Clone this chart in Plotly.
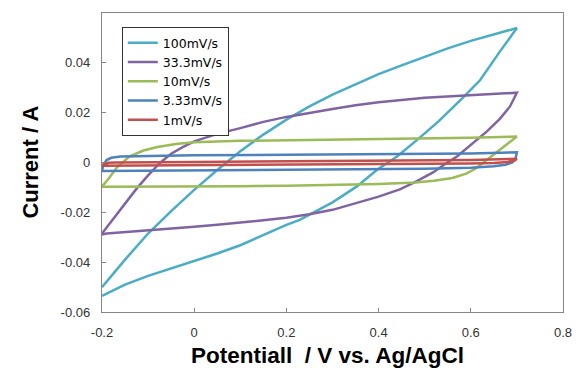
import plotly.graph_objects as go

# ---- data (potential V, current A) ----
series_names = ["100mV/s", "33.3mV/s", "10mV/s", "3.33mV/s", "1mV/s"]
series_colors = ["#4BACC6", "#8064A2", "#9BBB59", "#4F81BD", "#C0504D"]

x_100 = [-0.2, -0.15, -0.1, -0.05, 0.0, 0.05, 0.1, 0.15, 0.2, 0.25, 0.3, 0.35, 0.4, 0.45, 0.5, 0.55, 0.6, 0.65, 0.7,
         0.663, 0.62, 0.583, 0.53, 0.483, 0.44, 0.396, 0.353, 0.3, 0.229, 0.2, 0.14, 0.1, 0.05, 0.0, -0.05, -0.1, -0.15, -0.2]
y_100 = [-0.050, -0.039, -0.0285, -0.0195, -0.011, -0.003, 0.0045, 0.0112, 0.0172, 0.0225, 0.0272, 0.0315, 0.0355, 0.039, 0.0425, 0.0458, 0.0488, 0.0515, 0.054,
         0.0445, 0.033, 0.026, 0.0165, 0.009, 0.0024, -0.003, -0.0096, -0.016, -0.023, -0.025, -0.030, -0.0332, -0.0365, -0.0395, -0.0425, -0.0455, -0.049, -0.0535]

x_33 = [-0.2, -0.175, -0.15, -0.125, -0.1, -0.075, -0.05, -0.025, 0.0, 0.05, 0.1, 0.15, 0.2, 0.25, 0.3, 0.35, 0.4, 0.5, 0.6, 0.7,
        0.685, 0.663, 0.635, 0.605, 0.57, 0.545, 0.518, 0.48, 0.446, 0.4, 0.35, 0.3, 0.25, 0.2, 0.15, 0.1, 0.05, 0.0, -0.05, -0.1, -0.15, -0.19, -0.2]
y_33 = [-0.0285, -0.0225, -0.0163, -0.0105, -0.0052, -0.0003, 0.0035, 0.0062, 0.0085, 0.0115, 0.0138, 0.0163, 0.0183, 0.020, 0.0215, 0.023, 0.0242, 0.026, 0.027, 0.028,
        0.0225, 0.0175, 0.0125, 0.008, 0.0024, -0.0005, -0.004, -0.0078, -0.0108, -0.0137, -0.0163, -0.019, -0.0208, -0.0222, -0.0232, -0.0242, -0.025, -0.0258, -0.0265, -0.0272, -0.0278, -0.0285, -0.0289]

x_10 = [-0.2, -0.187, -0.168, -0.14, -0.11, -0.08, -0.04, 0.0, 0.1, 0.2, 0.3, 0.4, 0.5, 0.6, 0.7,
        0.69, 0.67, 0.65, 0.63, 0.61, 0.59, 0.56, 0.52, 0.48, 0.4, 0.3, 0.2, 0.1, 0.0, -0.1, -0.2]
y_10 = [-0.0096, -0.0068, -0.002, 0.0025, 0.0048, 0.0062, 0.0074, 0.0081, 0.0087, 0.0089, 0.0091, 0.0093, 0.0096, 0.0099, 0.0104,
        0.009, 0.006, 0.0032, 0.0005, -0.0025, -0.0045, -0.0062, -0.0073, -0.008, -0.0086, -0.009, -0.0093, -0.0095, -0.0096, -0.0097, -0.0097]

x_3 = [-0.2, -0.197, -0.19, -0.18, -0.16, -0.1, 0.0, 0.2, 0.4, 0.6, 0.7,
       0.697, 0.69, 0.675, 0.65, 0.6, 0.5, 0.3, 0.1, -0.1, -0.2]
y_3 = [-0.0034, -0.001, 0.001, 0.0019, 0.0024, 0.0027, 0.0029, 0.0031, 0.0033, 0.0036, 0.0041,
       0.0015, 0.0, -0.0009, -0.0015, -0.0021, -0.0025, -0.0028, -0.0031, -0.0033, -0.0034]

x_1 = [-0.2, -0.195, -0.185, -0.17, 0.0, 0.2, 0.4, 0.6, 0.7,
       0.695, 0.68, 0.65, 0.6, 0.4, 0.2, 0.0, -0.2]
y_1 = [-0.0013, -0.0005, -0.0001, 0.0, 0.0002, 0.0004, 0.0007, 0.001, 0.0015,
       0.0008, 0.0002, -0.0002, -0.0004, -0.0007, -0.0009, -0.0011, -0.0013]

xs = [x_100, x_33, x_10, x_3, x_1]
ys = [y_100, y_33, y_10, y_3, y_1]

x_ticks = [-0.2, 0.0, 0.2, 0.4, 0.6, 0.8]
x_ticktext = ["-0.2", "0", "0.2", "0.4", "0.6", "0.8"]
y_ticks = [-0.06, -0.04, -0.02, 0.0, 0.02, 0.04, 0.06]
y_ticktext = ["-0.06", "-0.04", "-0.02", "0", "0.02", "0.04", "0.06"]

x_title = "Potentiall  / V vs. Ag/AgCl"
y_title = "Current / A"

FONT = "Liberation Sans"

fig = go.Figure()
for name, color, x, y in zip(series_names, series_colors, xs, ys):
    fig.add_trace(go.Scatter(x=x, y=y, mode="lines", name=name,
                             line=dict(color=color, width=2.5)))

axis_common = dict(showgrid=False, zeroline=False, showline=True, mirror=True,
                   linecolor="#868686", linewidth=1.3, ticks="inside", ticklen=4,
                   tickcolor="#868686", automargin=False,
                   tickfont=dict(family=FONT, size=13, color="#333333"))

# page body has an 8px margin; margins compensate so the plot area sits at 102..563 x 13..312
fig.update_layout(
    width=583, height=383,
    margin=dict(l=94, r=28, t=5, b=79),
    paper_bgcolor="white", plot_bgcolor="white",
    font=dict(family=FONT, color="#000000"),
    showlegend=True,
    legend=dict(x=0.043, y=0.953, xanchor="left", yanchor="top",
                bgcolor="white", bordercolor="#333333", borderwidth=1,
                font=dict(family="DejaVu Sans", size=12.5, color="#000000"),
                tracegroupgap=0, itemwidth=30),
)
fig.update_xaxes(range=[-0.2, 0.8], tickvals=x_ticks, ticktext=x_ticktext,
                 ticklabelstandoff=8, **axis_common)
fig.update_yaxes(range=[-0.06, 0.06], tickvals=y_ticks, ticktext=y_ticktext,
                 ticklabelstandoff=8, **axis_common)

fig.add_annotation(text="<b>" + x_title + "</b>", xref="paper", yref="paper",
                   x=0.49, y=-0.144, xanchor="center", yanchor="middle",
                   showarrow=False, font=dict(family=FONT, size=22.5, color="#000000"))
fig.add_annotation(text="<b>" + y_title + "</b>", xref="paper", yref="paper",
                   x=-0.156, y=0.5, xanchor="center", yanchor="middle", textangle=-90,
                   showarrow=False, font=dict(family=FONT, size=22, color="#000000"))

fig.write_html("out.html")
